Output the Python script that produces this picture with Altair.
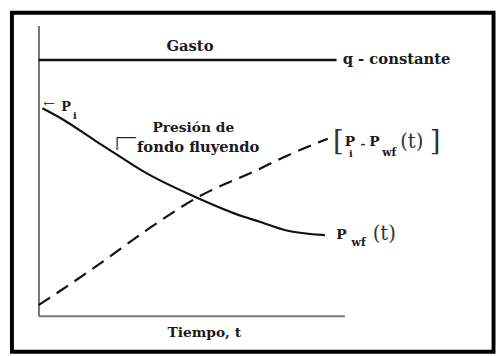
import altair as alt
import pandas as pd

# ---- chart values (x = time 0..100, y = 0..100) ----
time_pwf = [1.3, 7.7, 18.6, 25.1, 34.7, 51.8, 66.9, 72.0, 80.7, 93.6]
pwf_values = [71.5, 67.8, 60.3, 55.9, 49.5, 40.7, 34.2, 32.5, 29.5, 27.8]

time_drawdown = [0.0, 7.4, 19.6, 35.7, 51.8, 72.0, 80.7, 94.5]
drawdown_values = [3.7, 8.8, 17.6, 29.8, 40.7, 50.5, 54.9, 61.0]

time_rate = [0.0, 97.4]
rate_values = [88.1, 88.1]

# ---- annotation texts ----
bold_texts = ["Gasto", "P", "i", "Presión de", "fondo fluyendo",
              "P", "i", "-", "P", "wf", "P", "wf"]
bold_x = [49.5, 9.0, 11.9, 50.6, 52.2,
          101.8, 102.1, 106.0, 109.8, 114.6, 99.0, 104.6]
bold_y = [92.9, 71.9, 68.8, 64.7, 58.3,
          60.0, 55.9, 59.3, 60.0, 56.2, 27.8, 25.2]
bold_size = [15, 13, 10, 14, 15,
             14, 10, 12, 14, 11, 14, 11]

left_texts = ["q - constante"]
left_x = [99.4]
left_y = [88.5]
left_size = [15]

thin_texts = ["←", "[", "(t)", "]", "(t)"]
thin_x = [3.4, 98.0, 122.0, 129.6, 113.0]
thin_y = [72.9, 60.0, 59.8, 60.0, 28.1]
thin_size = [14, 28, 20, 28, 20]

leader_x = [31.8, 25.7, 25.7]
leader_y = [61.4, 61.4, 58.2]
arrow_x = [25.7]
arrow_y = [57.4]

# ---- tables ----
pwf_df = pd.DataFrame({"x": time_pwf, "y": pwf_values})
dd_df = pd.DataFrame({"x": time_drawdown, "y": drawdown_values})
rate_df = pd.DataFrame({"x": time_rate, "y": rate_values})
bold_df = pd.DataFrame({"x": bold_x, "y": bold_y, "t": bold_texts, "s": bold_size})
left_df = pd.DataFrame({"x": left_x, "y": left_y, "t": left_texts, "s": left_size})
thin_df = pd.DataFrame({"x": thin_x, "y": thin_y, "t": thin_texts, "s": thin_size})
leader_df = pd.DataFrame({"x": leader_x, "y": leader_y, "o": [0, 1, 2]})
arrow_df = pd.DataFrame({"x": arrow_x, "y": arrow_y})

xs = alt.Scale(domain=[0, 100], zero=False, nice=False)
ys = alt.Scale(domain=[0, 100], zero=False, nice=False)
x_axis = alt.Axis(title="Tiempo, t", labels=False, ticks=False, grid=False,
                  domainColor="#777777", domainWidth=2,
                  titleFont="DejaVu Serif", titleFontSize=14, titleFontWeight="bold",
                  titleColor="#1a1a1a", titleX=168, titleY=17, titleBaseline="middle")
y_axis = alt.Axis(title="", labels=False, ticks=False, grid=False,
                  domainColor="#777777", domainWidth=2)


def X():
    return alt.X("x:Q", scale=xs, axis=x_axis)


def Y():
    return alt.Y("y:Q", scale=ys, axis=y_axis)


rate = alt.Chart(rate_df).mark_line(color="#111111", strokeWidth=2.5).encode(x=X(), y=Y())
pwf = alt.Chart(pwf_df).mark_line(color="#111111", strokeWidth=2.2, interpolate="monotone").encode(x=X(), y=Y())
dd = alt.Chart(dd_df).mark_line(color="#111111", strokeWidth=2.2, strokeDash=[14, 8],
                                interpolate="monotone").encode(x=X(), y=Y())
leader = alt.Chart(leader_df).mark_line(color="#222222", strokeWidth=1.2).encode(
    x=X(), y=Y(), order="o:Q")
arrow = alt.Chart(arrow_df).mark_point(shape="triangle-down", filled=True, color="#222222",
                                       size=14).encode(x=X(), y=Y())
bold_t = alt.Chart(bold_df).mark_text(font="DejaVu Serif", fontWeight="bold", color="#1a1a1a",
                                      baseline="middle", align="center").encode(
    x=X(), y=Y(), text="t:N", size=alt.Size("s:Q", scale=None, legend=None))
left_t = alt.Chart(left_df).mark_text(font="DejaVu Serif", fontWeight="bold", color="#1a1a1a",
                                      baseline="middle", align="left").encode(
    x=X(), y=Y(), text="t:N", size=alt.Size("s:Q", scale=None, legend=None))
thin_t = alt.Chart(thin_df).mark_text(font="DejaVu Serif", fontWeight="normal", color="#333333",
                                      baseline="middle", align="center").encode(
    x=X(), y=Y(), text="t:N", size=alt.Size("s:Q", scale=None, legend=None))

frame = alt.Chart(pd.DataFrame({"k": [0]})).mark_rect(
    fillOpacity=0, stroke="#000000", strokeWidth=4).encode(
    x=alt.value(-27), x2=alt.value(462.5), y=alt.value(-13), y2=alt.value(331.5))

chart = alt.layer(frame, rate, pwf, dd, leader, arrow, bold_t, left_t, thin_t).properties(
    width=311, height=295,
    autosize=alt.AutoSizeParams(type="none"),
    padding={"left": 31, "top": 15, "right": 154, "bottom": 38},
    background="white",
).configure_view(stroke=None)

chart.save("out.html", embed_options={"renderer": "svg", "actions": False})
